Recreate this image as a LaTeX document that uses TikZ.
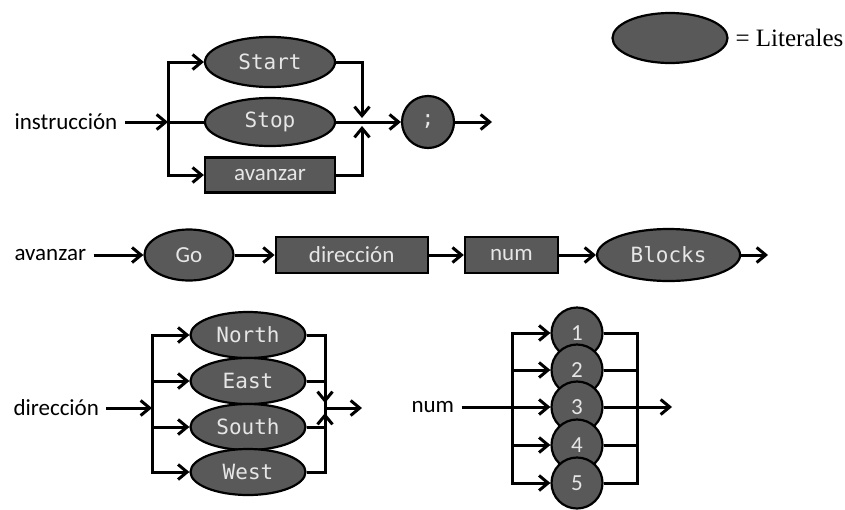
\documentclass[tikz,border=0pt]{standalone}
\usepackage{fontspec}
\setmainfont{Carlito}
\newfontfamily\codefont{DejaVu Sans Mono}
\newfontfamily\legendfont{Liberation Serif}
\usetikzlibrary{positioning, shapes.geometric, arrows.meta}
\definecolor{litgray}{HTML}{595959}
\definecolor{littext}{HTML}{E6E6E6}

\begin{document}
\begin{tikzpicture}[x=1pt, y=-1pt, line width=3pt,
  >={Straight Barb[length=9pt,width=15pt]},
  every node/.style={font=\fontsize{23}{26}\selectfont},
  lit/.style={draw, ellipse, fill=litgray, text=littext, line width=2.2pt,
    inner sep=0pt, font=\codefont\fontsize{21}{24}\selectfont},
  rulebox/.style={draw, rectangle, fill=litgray, text=littext, line width=2.2pt,
    inner sep=0pt, minimum height=36pt},
  lbl/.style={anchor=west, inner sep=6pt}]
\useasboundingbox (0,0) rectangle (845,509);

% legend
\node (key) [lit, minimum width=115pt, minimum height=50pt] at (670,38) {};
\node (keytext) [anchor=west, inner sep=0pt, font=\legendfont\fontsize{25}{29}\selectfont]
  at (734,38) {= Literales};

% instruccion
\node (instr) [lbl] at (7,122) {instrucción};
\coordinate (ibr) at (168,122);
\coordinate (imerge) at (362,122);
\node (start) [lit, minimum width=130pt, minimum height=50pt] at (270,62) {Start};
\node (stop) [lit, minimum width=130pt, minimum height=48pt] at (270,122) {Stop};
\node (avz) [rulebox, minimum width=130pt, minimum height=35pt] at (270,175) {avanzar};
\node (semi) [lit, circle, minimum size=52pt] at (428,122) {;};
\coordinate (iend) at (492,122);
\draw[->] (instr) -- (ibr);
\draw[->] (ibr) |- (start);
\draw[->] (ibr) |- (avz);
\draw (ibr) -- (stop);
\draw[->, shorten >=4pt] (start) -| (imerge);
\draw[->, shorten >=4pt] (avz) -| (imerge);
\draw[->] (stop) -- (semi);
\draw[->] (semi) -- (iend);

% avanzar
\node (avlbl) [lbl] at (7,255) {avanzar};
\node (go) [lit, minimum width=89pt, minimum height=51pt, font=\fontsize{23}{26}\selectfont]
  at (189,255) {Go};
\node (dir) [rulebox, minimum width=152pt, right=40pt of go] {dirección};
\node (num) [rulebox, minimum width=93pt, right=35pt of dir] {num};
\node (blocks) [lit, minimum width=143pt, minimum height=52pt, right=37pt of num] {Blocks};
\coordinate (aend) at (768,255);
\draw[->] (avlbl) -- (go);
\draw[->] (go) -- (dir);
\draw[->] (dir) -- (num);
\draw[->] (num) -- (blocks);
\draw[->] (blocks) -- (aend);

% direccion
\node (dirlbl) [lbl] at (6,408) {dirección};
\coordinate (dbr) at (152,408);
\coordinate (dmerge) at (325,408);
\node (north) [lit, minimum width=115pt, minimum height=46pt] at (248,335) {North};
\node (east) [lit, minimum width=115pt, minimum height=46pt] at (248,381) {East};
\node (south) [lit, minimum width=115pt, minimum height=46pt] at (248,427) {South};
\node (west) [lit, minimum width=115pt, minimum height=46pt] at (248,472) {West};
\coordinate (dend) at (362,408);
\draw[->] (dirlbl) -- (dbr);
\draw[->] (dbr) |- (north);
\draw[->] (dbr) |- (east);
\draw[->] (dbr) |- (south);
\draw[->] (dbr) |- (west);
\draw (east) -| (dmerge);
\draw (south) -| (dmerge);
\draw[->, shorten >=5pt] (north) -| (dmerge);
\draw[->, shorten >=5pt] (west) -| (dmerge);
\draw[->] (dmerge) -- (dend);

% num
\node (numlbl) [lbl] at (404,407) {num};
\coordinate (nbr) at (512,407);
\coordinate (nmerge) at (637,407);
\node (d1) [lit, circle, minimum size=51pt, font=\fontsize{23}{26}\selectfont] at (577,333) {1};
\node (d2) [lit, circle, minimum size=51pt, font=\fontsize{23}{26}\selectfont] at (577,370) {2};
\node (d3) [lit, circle, minimum size=51pt, font=\fontsize{23}{26}\selectfont] at (577,407) {3};
\node (d4) [lit, circle, minimum size=51pt, font=\fontsize{23}{26}\selectfont] at (577,445) {4};
\node (d5) [lit, circle, minimum size=51pt, font=\fontsize{23}{26}\selectfont] at (577,483) {5};
\coordinate (nend) at (672,407);
\draw[->] (numlbl) -- (d3);
\draw[->] (nbr) |- (d1);
\draw[->] (nbr) |- (d2);
\draw[->] (nbr) |- (d4);
\draw[->] (nbr) |- (d5);
\draw (d1) -| (nmerge);
\draw (d2) -| (nmerge);
\draw (d4) -| (nmerge);
\draw (d5) -| (nmerge);
\draw[->] (d3) -- (nend);
\end{tikzpicture}
\end{document}
